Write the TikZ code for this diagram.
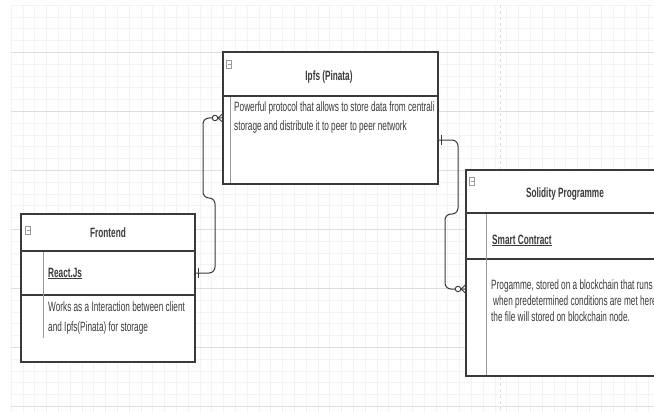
\documentclass[tikz,border=0pt]{standalone}
\usepackage{fontspec}
\setmainfont{Liberation Sans}[FakeStretch=0.61]
\usetikzlibrary{calc}
\definecolor{ink}{HTML}{3A3A3A}
\definecolor{edge}{HTML}{3A3A3A}
\definecolor{inner}{HTML}{9A9A9A}
\definecolor{minorgrid}{HTML}{F3F3F3}
\definecolor{majorgrid}{HTML}{DEDEDE}
\tikzset{
  minorline/.style={draw=minorgrid, line width=0.5pt},
  majorline/.style={draw=majorgrid, line width=1.2pt},
  pagebreak/.style={draw=majorgrid, line width=0.8pt, dash pattern=on 3pt off 3pt},
  part/.style={draw=edge, line width=1.3pt, rectangle, inner sep=0pt, outer sep=0pt, anchor=north west, text=ink},
  title/.style={font=\fontsize{13.5}{16}\selectfont\bfseries, text=ink, inner sep=0pt, anchor=base},
  rowtxt/.style={font=\fontsize{13.5}{16}\selectfont\bfseries, text=ink, inner sep=0pt, anchor=base west},
  bodytxt/.style={font=\fontsize{13.5}{16}\selectfont, text=ink, inner sep=0pt, anchor=base west},
  innerline/.style={draw=inner, line width=1pt},
  icon/.style={draw=inner, line width=0.6pt, rectangle, minimum width=5pt, minimum height=8pt, inner sep=0pt,
    path picture={\draw[inner, line width=0.6pt] ([xshift=1pt]path picture bounding box.west) -- ([xshift=-1pt]path picture bounding box.east);}},
  conn/.style={draw=edge, line width=1pt, rounded corners=6pt},
  tickmark/.style={draw=edge, line width=0.9pt},
  zero/.style={draw=edge, fill=white, line width=0.9pt, circle, inner sep=0pt, minimum size=5.5pt}
}
\begin{document}
\begin{tikzpicture}[x=1pt,y=-1pt]
\useasboundingbox (0,0) rectangle (654,412);
\clip (0,0) rectangle (654,412);
\fill[white] (0,0) rectangle (654,412);
% grid
\foreach \i in {0,...,54} \draw[minorline] (11+\i*11.8,5) -- (11+\i*11.8,412);
\foreach \j in {0,...,34} \draw[minorline] (11,5+\j*11.8) -- (654,5+\j*11.8);
\foreach \j in {0,...,6} \draw[majorline] (11,52.2+\j*59) -- (654,52.2+\j*59);
\draw[pagebreak] (500,5) -- (500,412);

% ---------- Frontend ----------
\node[part, fill=white, minimum width=174pt, minimum height=148pt] (fe) at (21,214) {};
\node[part, minimum width=174pt, minimum height=37pt] (fehead) at (21,214) {};
\node[part, minimum width=174pt, minimum height=44pt] (ferow) at (fehead.south west) {};
\node[part, minimum width=174pt, minimum height=67pt] (febody) at (ferow.south west) {};
\draw[innerline] (43,252) -- (43,338);
\node[icon] (feicon) at (28,230) {};
\node[title] (fetitle) at (108,237) {Frontend};
\node[rowtxt] (ferowtxt) at (48,277) {\underline{React.Js}};
\node[bodytxt] (fel1) at (48,311) {Works as a Interaction between client};
\node[bodytxt] (fel2) at (48,331) {and Ipfs(Pinata) for storage};

% ---------- Ipfs ----------
\node[part, fill=white, minimum width=215pt, minimum height=132pt] (ipfs) at (223,52) {};
\node[part, minimum width=215pt, minimum height=44pt] (ipfshead) at (223,52) {};
\node[part, minimum width=215pt, minimum height=88pt] (ipfsbody) at (ipfshead.south west) {};
\draw[innerline] (230,97) -- (230,183);
\node[icon] (ipfsicon) at (229,64) {};
\node[title] (ipfstitle) at (329,81) {Ipfs (Pinata)};
\begin{scope}
\clip (223,96) rectangle (438,184);
\node[bodytxt] (ipl1) at (234,112) {Powerful protocol that allows to store data from centrali};
\node[bodytxt] (ipl2) at (234,131) {storage and distribute it to peer to peer network};
\end{scope}

% ---------- Solidity ----------
\node[part, fill=white, minimum width=198pt, minimum height=206pt] (sol) at (466,170) {};
\node[part, minimum width=198pt, minimum height=43pt] (solhead) at (466,170) {};
\node[part, minimum width=198pt, minimum height=46pt] (solrow) at (solhead.south west) {};
\node[part, minimum width=198pt, minimum height=117pt] (solbody) at (solrow.south west) {};
\draw[innerline] (486,214) -- (486,375);
\node[icon] (solicon) at (472,181) {};
\node[title] (soltitle) at (565,197) {Solidity Programme};
\node[rowtxt] (solrowtxt) at (492,244) {\underline{Smart Contract}};
\node[bodytxt] (sl1) at (491,289) {Progamme, stored on a blockchain that runs};
\node[bodytxt] (sl2) at (493,305) {when predetermined conditions are met here};
\node[bodytxt] (sl3) at (491,321) {the file will stored on blockchain node.};

% ---------- connectors ----------
\coordinate (ipfsin) at ($(ipfsbody.north west)+(0,22)$);
\coordinate (solin) at ($(solbody.north west)+(0,30)$);

\draw[conn] (ferow.east) -- ++(20,0) -- ++(0,-75) -- ++(-12,0) |- (ipfsin);
\draw[tickmark] ($(ferow.east)+(3,-5)$) -- ++(0,10);
\draw[tickmark] ($(ipfsin)+(-5,0)$) -- ($(ipfsin)+(0,-4.5)$);
\draw[tickmark] ($(ipfsin)+(-5,0)$) -- ($(ipfsin)+(0,4.5)$);
\node[zero] (z1) at ($(ipfsin)+(-8,0)$) {};

\draw[conn] (ipfsbody.east) -- ++(20,0) -- ++(0,74) -- ++(-13,0) |- (solin);
\draw[tickmark] ($(ipfsbody.east)+(3,-5)$) -- ++(0,10);
\draw[tickmark] ($(solin)+(-5,0)$) -- ($(solin)+(0,-4.5)$);
\draw[tickmark] ($(solin)+(-5,0)$) -- ($(solin)+(0,4.5)$);
\node[zero] (z2) at ($(solin)+(-8,0)$) {};
\end{tikzpicture}
\end{document}
